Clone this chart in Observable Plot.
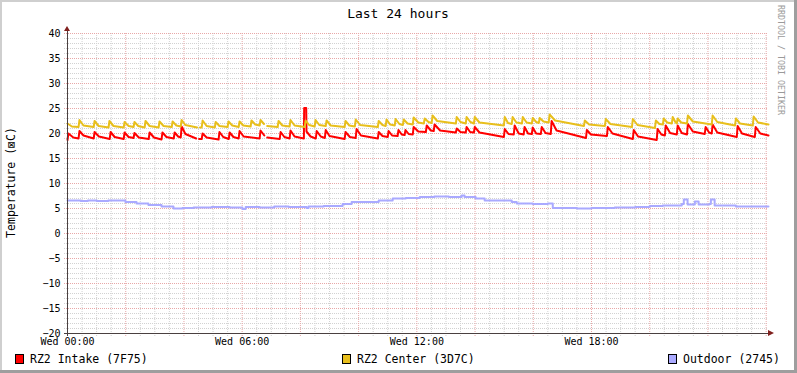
<!DOCTYPE html>
<html><head><meta charset="utf-8">
<script src="https://cdn.jsdelivr.net/npm/d3@7"></script>
<script src="https://cdn.jsdelivr.net/npm/@observablehq/plot@0.6"></script>
<style>
html,body{margin:0;padding:0;background:#fff;}
#chart{width:797px;height:373px;}
</style></head><body><div id="chart"></div>
<script>
const title = "Last 24 hours";
const yLabel = "Temperature (⊠C)";
const watermark = "RRDTOOL / TOBI OETIKER";
const xTickHours = [0, 6, 12, 18];
const xTickLabels = ["Wed 00:00", "Wed 06:00", "Wed 12:00", "Wed 18:00"];
const yTicks = [40, 35, 30, 25, 20, 15, 10, 5, 0, -5, -10, -15, -20];
const seriesNames = ["RZ2 Intake (7F75)", "RZ2 Center (3D7C)", "Outdoor (2745)"];
const seriesColors = ["#ff0000", "#e8bf1c", "#aaaaff"];

// [hour since Wed 00:00, °C]
const intake = [
[0.00,18.7],[0.03,20.0],[0.20,19.2],[0.38,19.0],
[0.41,20.5],[0.55,19.6],[0.90,19.0],
[0.93,20.3],[1.08,19.4],[1.45,18.9],
[1.48,20.3],[1.62,19.3],[1.93,18.9],
[1.96,20.2],[2.10,19.3],[2.27,19.1],
[2.30,20.1],[2.45,19.2],[2.79,18.9],
[2.82,20.2],[2.97,19.2],[3.23,18.8],
[3.26,20.2],[3.40,19.3],[3.65,19.0],
[3.68,20.2],[3.80,19.4],[3.89,19.2],
[3.92,21.4],[4.05,19.9],[4.42,19.0],[4.46,null],[4.52,18.9],[4.61,18.9],
[4.64,20.0],[4.78,19.2],[5.19,18.8],
[5.22,20.3],[5.35,19.3],[5.54,18.9],
[5.57,20.2],[5.70,19.3],[5.88,19.0],
[5.91,20.5],[6.05,19.4],[6.60,19.0],
[6.63,20.6],[6.76,19.6],[6.80,null],[6.86,19.2],[7.29,18.9],
[7.32,20.3],[7.45,19.3],[7.63,19.0],
[7.66,20.6],[7.80,19.4],[8.12,19.0],
[8.13,25.1],[8.20,25.1],[8.21,20.4],[8.35,19.4],[8.53,19.0],
[8.56,20.5],[8.70,19.4],[8.84,19.1],
[8.87,20.7],[9.00,19.5],[9.52,18.9],
[9.55,20.3],[9.70,19.3],[9.90,19.1],
[9.93,20.9],[10.08,19.6],[10.66,19.0],
[10.69,20.3],[10.82,19.5],[11.00,19.3],
[11.03,20.5],[11.15,19.6],[11.34,19.5],
[11.37,20.7],[11.48,19.8],[11.58,19.7],
[11.61,20.7],[11.72,19.9],[11.86,19.8],
[11.89,21.3],[12.05,20.4],[12.31,20.3],
[12.34,21.6],[12.48,20.6],[12.58,20.5],
[12.61,21.8],[12.80,20.6],[13.34,20.2],
[13.37,21.0],[13.50,20.3],[13.68,20.2],
[13.71,21.3],[13.83,20.3],[13.96,20.2],
[13.99,21.3],[14.15,20.2],[14.99,19.3],
[15.02,20.9],[15.15,19.9],[15.33,19.8],
[15.36,21.6],[15.50,20.0],[15.67,19.8],
[15.70,21.3],[15.82,20.0],[15.95,19.9],
[15.98,21.2],[16.10,20.0],[16.26,19.9],
[16.29,21.3],[16.42,20.1],[16.60,19.9],
[16.63,22.5],[16.80,20.6],[17.81,19.1],
[17.84,20.7],[17.98,19.8],[18.53,19.5],
[18.56,21.3],[18.72,20.0],[19.42,18.9],
[19.45,20.7],[19.60,19.4],[20.24,18.7],
[20.27,20.9],[20.40,19.8],[20.52,19.6],
[20.55,21.6],[20.70,20.1],[20.93,19.8],
[20.96,21.6],[21.10,20.1],[21.28,19.8],
[21.31,21.9],[21.48,20.4],[21.89,19.9],
[21.92,21.3],[22.04,20.2],[22.13,20.0],
[22.16,21.8],[22.32,20.2],[22.99,19.3],
[23.02,21.5],[23.17,20.0],[23.61,19.3],
[23.64,21.3],[23.80,20.0],[24.08,19.6]
];

const center = [
[0.00,22.0],[0.15,21.4],[0.38,21.3],
[0.41,22.7],[0.55,21.6],[0.90,21.3],
[0.93,22.5],[1.07,21.5],[1.41,21.2],
[1.44,22.5],[1.58,21.5],[1.93,21.2],
[1.96,22.3],[2.10,21.5],[2.27,21.3],
[2.30,22.3],[2.43,21.5],[2.65,21.2],
[2.68,22.5],[2.82,21.5],[3.13,21.2],
[3.16,22.4],[3.30,21.5],[3.58,21.3],
[3.61,22.4],[3.74,21.6],[3.89,21.4],
[3.92,22.7],[4.05,21.7],[4.45,21.2],[4.49,null],[4.55,21.2],[4.61,21.2],
[4.64,22.6],[4.78,21.5],[5.06,21.2],
[5.09,22.3],[5.22,21.5],[5.50,21.3],
[5.53,22.4],[5.66,21.6],[5.88,21.3],
[5.91,22.4],[6.04,21.6],[6.29,21.4],
[6.32,22.6],[6.45,21.8],[6.60,21.6],
[6.63,22.7],[6.75,21.9],[6.80,null],[6.86,21.5],[7.22,21.3],
[7.25,22.5],[7.38,21.6],[7.63,21.4],
[7.66,22.7],[7.80,21.6],[8.15,21.3],
[8.18,22.6],[8.30,21.7],[8.49,21.4],
[8.52,22.7],[8.65,21.7],[8.87,21.5],
[8.90,22.6],[9.04,21.6],[9.52,21.3],
[9.55,22.5],[9.68,21.6],[9.87,21.4],
[9.90,22.8],[10.05,21.7],[10.66,21.3],
[10.69,22.5],[10.82,21.7],[10.93,21.5],
[10.96,22.8],[11.08,21.8],[11.24,21.6],
[11.27,22.9],[11.40,21.9],[11.52,21.7],
[11.55,22.8],[11.68,22.0],[11.86,21.8],
[11.89,23.2],[12.05,22.2],[12.24,22.0],
[12.27,23.0],[12.40,22.3],[12.51,22.1],
[12.54,23.6],[12.70,22.5],[13.34,22.0],
[13.37,23.3],[13.50,22.3],[13.68,22.0],
[13.71,23.3],[13.84,22.3],[13.96,22.0],
[13.99,23.3],[14.15,22.2],[14.99,21.6],
[15.02,23.3],[15.13,22.1],[15.26,21.9],
[15.29,23.3],[15.42,22.2],[15.61,22.0],
[15.64,23.3],[15.77,22.2],[15.95,22.0],
[15.98,23.1],[16.10,22.3],[16.19,22.1],
[16.22,23.1],[16.35,22.4],[16.53,22.2],
[16.56,23.8],[16.75,22.6],[17.74,21.5],
[17.77,22.6],[17.92,21.8],[18.46,21.5],
[18.49,22.9],[18.65,21.9],[19.39,21.3],
[19.42,22.9],[19.58,21.7],[20.18,21.1],
[20.21,22.6],[20.33,21.9],[20.45,21.8],
[20.48,23.0],[20.60,22.2],[20.76,22.0],
[20.79,23.3],[20.88,22.3],[20.93,22.0],
[20.96,23.0],[21.08,22.2],[21.28,22.0],
[21.31,23.6],[21.48,22.4],[22.13,21.8],
[22.16,23.6],[22.32,22.3],[22.93,21.6],
[22.96,23.0],[23.10,22.0],[23.54,21.6],
[23.57,23.4],[23.72,22.2],[24.08,21.8]
];

const outdoor = [
[0.00,6.6],[0.45,6.5],[0.70,6.6],[1.00,6.5],[1.40,6.6],[1.99,6.3],[2.37,6.0],[2.78,5.7],
[3.23,5.4],[3.64,5.0],[3.95,5.1],[4.33,5.2],[4.95,5.3],[5.57,5.2],[6.01,4.9],[6.12,5.3],
[6.60,5.2],[7.10,5.4],[7.60,5.3],[8.21,5.1],[8.28,5.4],[8.80,5.5],[9.45,5.9],[9.76,6.3],
[10.69,6.6],[11.17,7.0],[11.62,7.1],[12.10,7.3],[12.60,7.4],[13.10,7.3],[13.54,7.6],[13.64,7.3],
[14.02,7.0],[14.33,6.6],[15.26,6.3],[15.43,6.0],[15.98,5.9],[16.50,6.0],[16.67,5.1],[17.50,5.0],
[18.00,5.1],[18.80,5.2],[19.50,5.3],[20.00,5.5],[20.45,5.6],[21.10,5.9],[21.17,6.8],[21.30,5.8],
[21.55,6.4],[21.68,5.8],[22.05,5.9],[22.10,6.8],[22.23,5.6],[22.96,5.4],[24.08,5.4]
];

const xEnd = 24.08;
const yMinor = d3.range(-19, 41).filter(v => v % 5 !== 0);
const yMajor = yTicks.filter(v => v !== -20);
const xMinor = d3.range(0.5, xEnd, 0.5).filter(h => h % 2 !== 0);
const xMajor = d3.range(2, xEnd, 2);

const minorColor = "#d2d2d2", majorColor = "#e8a8a8", axisColor = "#4a4040", arrowColor = "#80201e";
const FONT = "DejaVu Sans Mono";

const plot = Plot.plot({
  width: 797, height: 373,
  marginLeft: 67, marginRight: 29, marginTop: 33, marginBottom: 40,
  style: {fontFamily: FONT, fontSize: "10px", background: "#ffffff", color: "#000"},
  x: {domain: [0, xEnd], ticks: xTickHours, tickFormat: d => xTickLabels[xTickHours.indexOf(d)], tickSize: 0, tickPadding: 4, label: null},
  y: {domain: [-20, 40], ticks: yTicks, tickSize: 0, tickPadding: 7, label: null},
  marks: [
    Plot.ruleY(yMinor, {stroke: minorColor, strokeDasharray: "1,1", insetLeft: -3}),
    Plot.ruleX(xMinor, {stroke: minorColor, strokeDasharray: "1,1", insetBottom: -3}),
    Plot.ruleY(yMajor, {stroke: majorColor, strokeDasharray: "1,1", insetLeft: -3}),
    Plot.ruleX(xMajor, {stroke: majorColor, strokeDasharray: "1,1", insetBottom: -3}),
    Plot.line(intake, {x: d => d[0], y: d => d[1], stroke: seriesColors[0], strokeWidth: 2}),
    Plot.line(center, {x: d => d[0], y: d => d[1], stroke: seriesColors[1], strokeWidth: 2}),
    Plot.line(outdoor, {x: d => d[0], y: d => d[1], stroke: seriesColors[2], strokeWidth: 2, curve: "step-after"}),
    Plot.ruleX([0], {stroke: axisColor, insetTop: -5, insetBottom: -3}),
    Plot.ruleY([-20], {stroke: axisColor, insetLeft: -3})
  ]
});
document.getElementById("chart").appendChild(plot);

const svg = d3.select(plot);
const sx = plot.scale("x"), sy = plot.scale("y");
const x0 = sx.apply(0), xR = sx.apply(xEnd), yT = sy.apply(40), yB = sy.apply(-20);

// arrows
svg.append("path").attr("d", `M${x0-3},${yT-2}L${x0+3},${yT-2}L${x0},${yT-7}Z`).attr("fill", arrowColor);
svg.append("path").attr("d", `M${xR},${yB-3}L${xR},${yB+3}L${xR+6},${yB}Z`).attr("fill", arrowColor);

// frame shading
svg.append("rect").attr("x", 0).attr("y", 0).attr("width", 797).attr("height", 2).attr("fill", "#cfcfcf");
svg.append("rect").attr("x", 0).attr("y", 0).attr("width", 2).attr("height", 373).attr("fill", "#cfcfcf");
svg.append("rect").attr("x", 794).attr("y", 0).attr("width", 3).attr("height", 373).attr("fill", "#9e9e9e");
svg.append("rect").attr("x", 0).attr("y", 370).attr("width", 797).attr("height", 3).attr("fill", "#9e9e9e");

// title
svg.append("text").attr("x", 398).attr("y", 18).attr("text-anchor", "middle")
  .attr("font-family", FONT).attr("font-size", 13).attr("fill", "#000").text(title);
// y label
svg.append("text").attr("transform", "translate(15,182.5) rotate(-90)").attr("text-anchor", "middle")
  .attr("font-family", FONT).attr("font-size", 11.5).attr("fill", "#000").text(yLabel);
// watermark
svg.append("text").attr("transform", "translate(778,5) rotate(90)").attr("text-anchor", "start")
  .attr("font-family", FONT).attr("font-size", 8.3).attr("fill", "#9a9a9a").text(watermark);

// legend
const legendX = [15, 342, 668];
seriesNames.forEach((name, i) => {
  svg.append("rect").attr("x", legendX[i] + 0.5).attr("y", 354.5).attr("width", 8).attr("height", 9)
    .attr("fill", seriesColors[i]).attr("stroke", "#000").attr("stroke-width", 1);
  svg.append("text").attr("x", legendX[i] + 15).attr("y", 363).attr("text-anchor", "start")
    .attr("font-family", FONT).attr("font-size", 11.5).attr("fill", "#000").text(name);
});
</script>
</body></html>
